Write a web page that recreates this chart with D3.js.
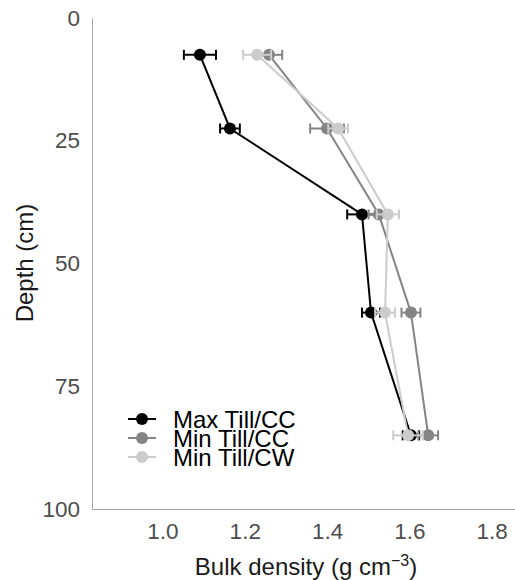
<!DOCTYPE html>
<html><head><meta charset="utf-8">
<script src="https://cdn.jsdelivr.net/npm/d3@7"></script>
<style>
body{margin:0;background:#fff;}
text{font-family:"Liberation Sans",Arial,sans-serif;}
</style></head>
<body><svg id="c" width="515" height="580"></svg>
<script>
const depths = [7.5, 22.5, 40, 60, 85];
const seriesNames = ["Max Till/CC", "Min Till/CC", "Min Till/CW"];
const maxTillCC = [1.091, 1.164, 1.485, 1.507, 1.604];
const maxTillCCErr = [0.039, 0.024, 0.036, 0.022, 0.02];
const minTillCC = [1.259, 1.400, 1.526, 1.604, 1.646];
const minTillCCErr = [0.032, 0.041, 0.025, 0.023, 0.024];
const minTillCW = [1.230, 1.427, 1.548, 1.541, 1.597];
const minTillCWErr = [0.034, 0.024, 0.027, 0.024, 0.036];
const xTicks = [1.0, 1.2, 1.4, 1.6, 1.8];
const yTicks = [0, 25, 50, 75, 100];
const colors = ["#000000", "#848484", "#cccccc"];

const series = [
  {name: seriesNames[0], vals: maxTillCC, err: maxTillCCErr, color: colors[0]},
  {name: seriesNames[1], vals: minTillCC, err: minTillCCErr, color: colors[1]},
  {name: seriesNames[2], vals: minTillCW, err: minTillCWErr, color: colors[2]}
];

const svg = d3.select("#c");
const x = d3.scaleLinear().domain([0.8286, 1.857]).range([92, 515]);
const y = d3.scaleLinear().domain([0, 100]).range([18, 509]);

// axes
const gx = svg.append("g").attr("transform", "translate(0,509)")
  .call(d3.axisBottom(x).tickValues(xTicks).tickFormat(d3.format(".1f")).tickSize(0).tickPadding(14).tickSizeOuter(0));
gx.select(".domain").attr("stroke", "#a6a6a6");
gx.selectAll("text").attr("font-size", 22.5).attr("fill", "#4d4d4d").attr("font-family", "Liberation Sans, Arial, sans-serif");

const gy = svg.append("g").attr("transform", "translate(92,0)")
  .call(d3.axisLeft(y).tickValues(yTicks).tickSize(0).tickPadding(12).tickSizeOuter(0));
gy.select(".domain").attr("stroke", "#a6a6a6");
gy.selectAll("text").attr("font-size", 22.5).attr("fill", "#4d4d4d").attr("font-family", "Liberation Sans, Arial, sans-serif");

// axis titles
const xt = svg.append("text").attr("x", 306).attr("y", 575).attr("text-anchor", "middle")
  .attr("font-size", 24).attr("fill", "#1a1a1a");
xt.append("tspan").text("Bulk density (g cm");
xt.append("tspan").attr("dy", -9).attr("font-size", 16).text("\u22123");
xt.append("tspan").attr("dy", 9).text(")");

svg.append("text").attr("transform", "translate(33,263) rotate(-90)").attr("text-anchor", "middle")
  .attr("font-size", 24).attr("fill", "#1a1a1a").text("Depth (cm)");

// series
const line = d3.line().x(d => x(d[0])).y(d => y(d[1]));
series.forEach(s => {
  const pts = s.vals.map((v, i) => [v, depths[i], s.err[i]]);
  const g = svg.append("g");
  g.append("path").datum(pts).attr("d", line).attr("fill", "none").attr("stroke", s.color).attr("stroke-width", 2);
  pts.forEach(p => {
    const x0 = x(p[0] - p[2]), x1 = x(p[0] + p[2]), yy = y(p[1]);
    g.append("line").attr("x1", x0).attr("x2", x1).attr("y1", yy).attr("y2", yy).attr("stroke", s.color).attr("stroke-width", 2);
    [x0, x1].forEach(xx => g.append("line").attr("x1", xx).attr("x2", xx).attr("y1", yy - 5).attr("y2", yy + 5).attr("stroke", s.color).attr("stroke-width", 2));
  });
  g.selectAll("circle").data(pts).join("circle").attr("cx", d => x(d[0])).attr("cy", d => y(d[1])).attr("r", 6).attr("fill", s.color);
});

// legend
const lg = svg.append("g");
series.forEach((s, i) => {
  const yy = 419 + i * 19;
  lg.append("line").attr("x1", 128).attr("x2", 156).attr("y1", yy).attr("y2", yy).attr("stroke", s.color).attr("stroke-width", 2);
  lg.append("circle").attr("cx", 142).attr("cy", yy).attr("r", 6).attr("fill", s.color);
  lg.append("text").attr("x", 173).attr("y", yy).attr("dy", "0.36em").attr("font-size", 24).attr("fill", "#000").text(s.name);
});
</script></body></html>
